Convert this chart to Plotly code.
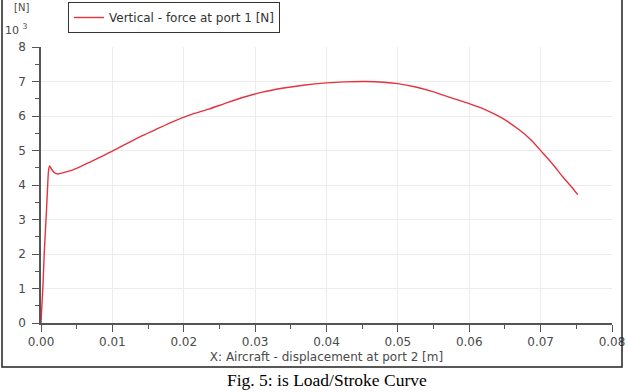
import plotly.graph_objects as go

# ---- data ----
disp_m = [0, 0.0001, 0.0003, 0.00045, 0.00065, 0.0008, 0.00095, 0.00105, 0.0012, 0.0015,
          0.0019, 0.0024, 0.003, 0.0045, 0.006, 0.008, 0.01, 0.012, 0.014, 0.016,
          0.0185, 0.021, 0.0235, 0.026, 0.0285, 0.031, 0.034, 0.037, 0.04, 0.0425,
          0.0455, 0.048, 0.05, 0.0525, 0.055, 0.0576, 0.06, 0.0623, 0.0645, 0.067,
          0.0687, 0.0703, 0.0717, 0.0731, 0.0743, 0.0752]
force_kN = [0, 0.4, 1.2, 2.0, 2.8, 3.4, 4.05, 4.4, 4.55, 4.45,
            4.35, 4.32, 4.35, 4.44, 4.58, 4.78, 4.98, 5.2, 5.41, 5.6,
            5.84, 6.04, 6.2, 6.38, 6.55, 6.69, 6.81, 6.9, 6.96, 6.99,
            7.0, 6.98, 6.94, 6.84, 6.7, 6.52, 6.36, 6.18, 5.95, 5.6,
            5.3, 4.93, 4.6, 4.24, 3.95, 3.72]
series_name = "Vertical - force at port 1 [N]"
x_title = "X: Aircraft - displacement at port 2 [m]"
caption = "Fig. 5: is Load/Stroke Curve"

W, H = 628, 392
L, R, T, B = 41, 16, 47, 69
pw, ph = W - L - R, H - T - B

def px(xp):
    return (xp - L) / pw

def py(yp):
    return (H - B - yp) / ph

font = "DejaVu Sans"
txt = "#4a4a4a"
fig = go.Figure()
fig.add_trace(go.Scatter(x=disp_m, y=force_kN, mode="lines", name=series_name,
                         line=dict(color="#e6323e", width=1.4, shape="spline", smoothing=0.6)))

axis_common = dict(showline=True, linecolor="#555555", linewidth=1.5,
                   ticks="outside", ticklen=7, tickcolor="#555555", tickwidth=1.3,
                   showgrid=True, gridcolor="#ececec", gridwidth=1, zeroline=False,
                   automargin=False,
                   tickfont=dict(family=font, size=12, color=txt))

fig.update_xaxes(range=[0, 0.08], dtick=0.01, tick0=0, tickformat=".2f",
                 minor=dict(dtick=0.005, ticks="outside", ticklen=4, tickcolor="#555555", showgrid=False),
                 title=dict(text=x_title, font=dict(family=font, size=12, color=txt), standoff=4),
                 **axis_common)
fig.update_yaxes(range=[0, 8], dtick=1, tick0=0,
                 minor=dict(dtick=0.5, ticks="outside", ticklen=4, tickcolor="#555555", showgrid=False),
                 ticklabelstandoff=4,
                 **axis_common)

# outer frame
fig.add_shape(type="rect", xref="paper", yref="paper",
              x0=px(2), x1=px(622), y0=py(367), y1=py(-2),
              line=dict(color="#222222", width=1.5), fillcolor="rgba(0,0,0,0)")

fig.add_annotation(xref="paper", yref="paper", x=px(21), y=py(7), text="[N]",
                   showarrow=False, xanchor="center", yanchor="middle",
                   font=dict(family=font, size=10, color=txt))
fig.add_annotation(xref="paper", yref="paper", x=px(3), y=py(39), text="10 <sup>3</sup>",
                   showarrow=False, xanchor="left", yanchor="bottom",
                   font=dict(family=font, size=11, color=txt))
fig.add_annotation(xref="paper", yref="paper", x=0.5, y=py(380), text=caption,
                   showarrow=False, xanchor="center", yanchor="middle",
                   font=dict(family="Liberation Serif", size=17.5, color="#000000"))

fig.update_layout(width=W, height=H, margin=dict(l=L, r=R, t=T, b=B, autoexpand=False),
                  paper_bgcolor="white", plot_bgcolor="white",
                  showlegend=True,
                  legend=dict(x=px(68), y=py(2), xanchor="left", yanchor="top",
                              bordercolor="#333333", borderwidth=1, bgcolor="white",
                              font=dict(family=font, size=12, color="#333333")))

fig.write_html("out.html")
